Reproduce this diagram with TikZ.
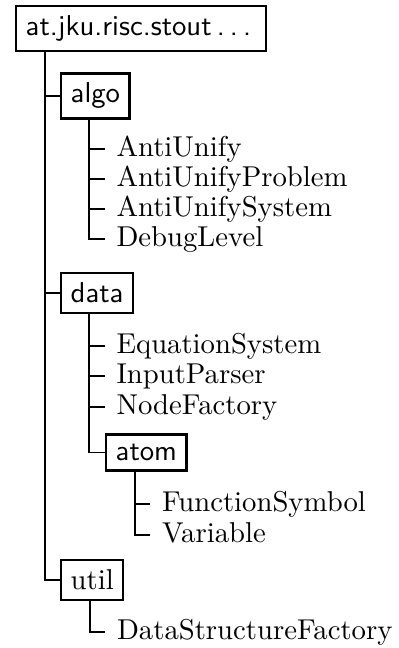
\documentclass[tikz,border=0pt]{standalone}
\usetikzlibrary{calc}
\begin{document}
\begin{tikzpicture}[x=0.3484pt,y=-0.3484pt,
  pkg/.style={draw, line width=0.8pt, anchor=west, font=\sffamily, inner sep=3.33pt},
  pkgrm/.style={pkg, font=\rmfamily},
  leaf/.style={anchor=west, inner ysep=0pt, inner xsep=4pt, text height=5.2pt, text depth=0pt},
  tree/.style={line width=0.4pt}]
\useasboundingbox (0,0) rectangle (399,648);
% packages
\node[pkg] (root) at (15,28.5) {at.jku.risc.stout\kern1.8pt.\kern1.8pt.\kern1.8pt.\kern1.8pt};
\node[pkg] (algo) at (60,96) {algo};
\node[pkg] (data) at (60,293) {data};
\node[pkg] (atom) at (105,452.5) {atom};
\node[pkgrm] (util) at (60,580) {util};
% leaves
\node[leaf] (l1) at (104.5,149) {AntiUnify};
\node[leaf] (l2) at (104.5,179) {AntiUnifyProblem};
\node[leaf] (l3) at (104.5,209) {AntiUnifySystem};
\node[leaf] (l4) at (104.5,239) {DebugLevel};
\node[leaf] (d1) at (104.5,346) {EquationSystem};
\node[leaf] (d2) at (104.5,376) {InputParser};
\node[leaf] (d3) at (104.5,407) {NodeFactory};
\node[leaf] (a1) at (150,504) {FunctionSymbol};
\node[leaf] (a2) at (150,535) {Variable};
\node[leaf] (u1) at (105,632) {DataStructureFactory};
% trunk coordinates
\coordinate (rt) at ($(root.south west)+(30,0)$);
\coordinate (at) at ($(algo.south west)+(29,0)$);
\coordinate (dt) at ($(data.south west)+(29,0)$);
\coordinate (mt) at ($(atom.south west)+(30,0)$);
\coordinate (ut) at ($(util.south west)+(30,0)$);
% connectors
\draw[tree] (rt) |- (algo.west);
\draw[tree] (rt) |- (data.west);
\draw[tree] (rt) |- (util.west);
\draw[tree] (at) |- (l1.west);
\draw[tree] (at) |- (l2.west);
\draw[tree] (at) |- (l3.west);
\draw[tree] (at) |- (l4.west);
\draw[tree] (dt) |- (d1.west);
\draw[tree] (dt) |- (d2.west);
\draw[tree] (dt) |- (d3.west);
\draw[tree] (dt) |- (atom.west);
\draw[tree] (mt) |- (a1.west);
\draw[tree] (mt) |- (a2.west);
\draw[tree] (ut) |- (u1.west);
\end{tikzpicture}
\end{document}
